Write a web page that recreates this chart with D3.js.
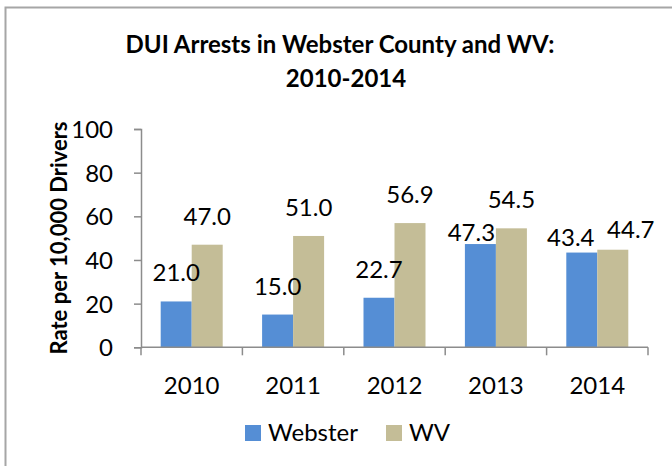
<!DOCTYPE html>
<html>
<head>
<meta charset="utf-8">
<script src="https://cdn.jsdelivr.net/npm/d3@7"></script>
<style>
  body { margin: 0; background: #fff; }
  text { font-family: Lato, "Open Sans", sans-serif; fill: #000; }
</style>
</head>
<body>
<svg id="chart" width="672" height="466"></svg>
<script>
// chart values
var years = ["2010", "2011", "2012", "2013", "2014"];
var seriesNames = ["Webster", "WV"];
var webster = [21.0, 15.0, 22.7, 47.3, 43.4];
var wv = [47.0, 51.0, 56.9, 54.5, 44.7];
var yTicks = [0, 20, 40, 60, 80, 100];
var titleLines = ["DUI Arrests in Webster County and WV:", "2010-2014"];
var yTitle = "Rate per 10,000 Drivers";

var colors = {"Webster": "#558ed5", "WV": "#c4bd97"};
// hand-placed label nudges (px) where the labels were moved apart in the original
var labelNudge = {"Webster_2013": [-9, 17], "Webster_2014": [-11, 13], "WV_2014": [18, 8]};

var svg = d3.select("#chart");

// outer frame of the chart object
svg.append("rect")
    .attr("x", 5.5).attr("y", 7.5)
    .attr("width", 700).attr("height", 500)
    .attr("fill", "none")
    .attr("stroke", "#a6a6a6")
    .attr("stroke-width", 2);

var plot = {left: 141, right: 648, top: 129, bottom: 347.3};

var x = d3.scaleBand().domain(years).range([plot.left, plot.right]).padding(0);
var y = d3.scaleLinear().domain([0, 100]).range([plot.bottom, plot.top]);
var xs = d3.scaleBand().domain(seriesNames).range([0, 62]);
var groupOff = (x.bandwidth() - 62) / 2;

var rows = [];
years.forEach(function(yr, i) {
    rows.push({year: yr, name: "Webster", value: webster[i]});
    rows.push({year: yr, name: "WV", value: wv[i]});
});

// bars
svg.append("g").selectAll("rect")
    .data(rows)
    .join("rect")
        .attr("x", function(d) { return x(d.year) + groupOff + xs(d.name); })
        .attr("y", function(d) { return y(d.value); })
        .attr("width", xs.bandwidth())
        .attr("height", function(d) { return y(0) - y(d.value); })
        .attr("fill", function(d) { return colors[d.name]; });

// y axis
var yAxis = svg.append("g")
    .attr("transform", "translate(" + plot.left + ",0)")
    .call(d3.axisLeft(y).tickValues(yTicks).tickSize(7).tickPadding(21).tickFormat(d3.format("d")));
yAxis.select(".domain").attr("stroke", "#8c8c8c").attr("stroke-width", 1.5);
yAxis.selectAll(".tick line").attr("stroke", "#8c8c8c").attr("stroke-width", 1.5);
yAxis.selectAll(".tick text")
    .attr("font-size", "24px")
    .attr("font-family", "Lato")
    .attr("fill", "#000")
    .attr("dy", "0.36em");

// x axis: ticks sit on the category boundaries
var xAxis = svg.append("g")
    .attr("transform", "translate(0," + plot.bottom + ")");
xAxis.append("line")
    .attr("x1", plot.left).attr("x2", plot.right)
    .attr("stroke", "#8c8c8c").attr("stroke-width", 1.5);
var bounds = years.map(function(d) { return x(d); }).concat([plot.right]);
xAxis.selectAll("line.tk")
    .data(bounds)
    .join("line")
        .attr("class", "tk")
        .attr("x1", function(d) { return d; }).attr("x2", function(d) { return d; })
        .attr("y1", 0).attr("y2", 8)
        .attr("stroke", "#8c8c8c").attr("stroke-width", 1.5);
xAxis.selectAll("text")
    .data(years)
    .join("text")
        .attr("x", function(d) { return x(d) + x.bandwidth() / 2; })
        .attr("y", 47)
        .attr("text-anchor", "middle")
        .attr("font-size", "24px")
        .text(function(d) { return d; });

// value labels
function nudge(d, k) {
    var n = labelNudge[d.name + "_" + d.year];
    return n ? n[k] : 0;
}
svg.append("g").selectAll("text")
    .data(rows)
    .join("text")
        .attr("x", function(d) { return x(d.year) + groupOff + xs(d.name) + xs.bandwidth() / 2 + nudge(d, 0); })
        .attr("y", function(d) { return y(d.value) - 20 + nudge(d, 1); })
        .attr("text-anchor", "middle")
        .attr("font-size", "24px")
        .text(function(d) { return d3.format(".1f")(d.value); });

// title
svg.append("text")
    .attr("x", 340).attr("y", 53)
    .attr("text-anchor", "middle")
    .attr("font-size", "24px")
    .attr("font-weight", "bold")
    .text(titleLines[0]);
svg.append("text")
    .attr("x", 346).attr("y", 87)
    .attr("text-anchor", "middle")
    .attr("font-size", "24px")
    .attr("font-weight", "bold")
    .text(titleLines[1]);

// y axis title
svg.append("text")
    .attr("transform", "translate(67,238) rotate(-90)")
    .attr("text-anchor", "middle")
    .attr("font-size", "22px")
    .attr("font-weight", "bold")
    .text(yTitle);

// legend
var legend = svg.append("g").attr("transform", "translate(245,425)");
var legX = [0, 141];
seriesNames.forEach(function(name, i) {
    legend.append("rect")
        .attr("x", legX[i]).attr("y", 0)
        .attr("width", 16).attr("height", 16)
        .attr("fill", colors[name]);
    legend.append("text")
        .attr("x", legX[i] + 23).attr("y", 16)
        .attr("font-size", "24px")
        .text(name);
});
</script>
</body>
</html>
